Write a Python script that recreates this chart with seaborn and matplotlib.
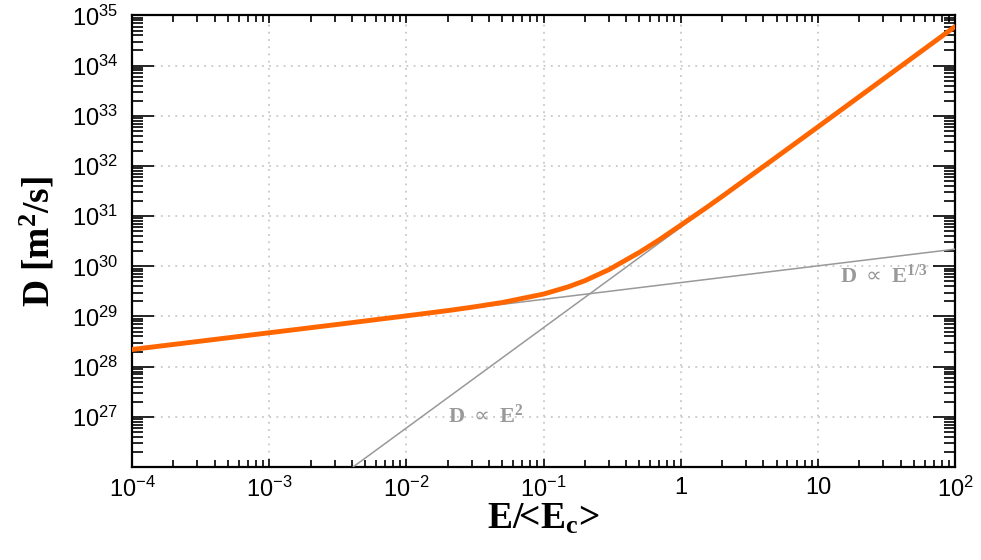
import numpy as np
import pandas as pd
import matplotlib
matplotlib.use("Agg")
import matplotlib.pyplot as plt
import seaborn as sns
from matplotlib.ticker import LogLocator, FixedLocator, FixedFormatter, NullFormatter

# ---- data ----
E_full = [1e-4, 3e-4, 1e-3, 3e-3, 1e-2, 2e-2, 3e-2, 5e-2, 0.1, 0.15, 0.2, 0.3,
          0.5, 0.7, 1.0, 1.5, 2.0, 3.0, 5.0, 10.0, 20.0, 50.0, 100.0]
D_full = [2.2e28, 3.17e28, 4.74e28, 6.84e28, 1.03e29, 1.31e29, 1.53e29, 1.90e29,
          2.8e29, 3.87e29, 5.17e29, 8.6e29, 1.9e30, 3.4e30, 6.6e30, 1.41e31,
          2.46e31, 5.5e31, 1.51e32, 6.0e32, 2.4e33, 1.5e34, 6.0e34]

E_low = [1e-4, 100.0]          # D ∝ E^(1/3) asymptote
D_low = [2.2e28, 2.2e30]
E_high = [4.08e-3, 100.0]      # D ∝ E^2 asymptote
D_high = [1.0e26, 6.0e34]

x_ticks = [1e-4, 1e-3, 1e-2, 1e-1, 1, 10, 100]
x_ticklabels = [r'$\mathregular{10^{-4}}$', r'$\mathregular{10^{-3}}$', r'$\mathregular{10^{-2}}$',
                r'$\mathregular{10^{-1}}$', '1', '10', r'$\mathregular{10^{2}}$']
y_ticks = [1e27, 1e28, 1e29, 1e30, 1e31, 1e32, 1e33, 1e34, 1e35]
y_ticklabels = [r'$\mathregular{10^{%d}}$' % p for p in range(27, 36)]

# ---- style ----
sns.set_style("ticks")
plt.rcParams['font.family'] = ['Liberation Sans', 'DejaVu Sans']
plt.rcParams.update({
    'text.color': 'black', 'axes.labelcolor': 'black',
    'xtick.color': 'black', 'ytick.color': 'black',
    'xtick.direction': 'in', 'ytick.direction': 'in',
    'xtick.top': True, 'xtick.bottom': True,
    'ytick.left': True, 'ytick.right': True,
    'xtick.minor.visible': True, 'ytick.minor.visible': True,
})

fig = plt.figure(figsize=(9.81, 5.60), dpi=100)
ax = fig.add_axes([0.1346, 0.166, 0.839, 0.8065])

df_full = pd.DataFrame({'E': E_full, 'D': D_full})
df_low = pd.DataFrame({'E': E_low, 'D': D_low})
df_high = pd.DataFrame({'E': E_high, 'D': D_high})

sns.lineplot(data=df_low, x='E', y='D', ax=ax, color='#999999', lw=1.1, zorder=3)
sns.lineplot(data=df_high, x='E', y='D', ax=ax, color='#999999', lw=1.1, zorder=3)
sns.lineplot(data=df_full, x='E', y='D', ax=ax, color='#FF6600', lw=3.5, zorder=4)

ax.set_xscale('log')
ax.set_yscale('log')
ax.set_xlim(1e-4, 1e2)
ax.set_ylim(1e26, 1e35)

ax.xaxis.set_major_locator(FixedLocator(x_ticks))
ax.xaxis.set_major_formatter(FixedFormatter(x_ticklabels))
ax.yaxis.set_major_locator(FixedLocator(y_ticks))
ax.yaxis.set_major_formatter(FixedFormatter(y_ticklabels))
ax.xaxis.set_minor_locator(LogLocator(base=10, subs=np.arange(2, 10), numticks=50))
ax.yaxis.set_minor_locator(LogLocator(base=10, subs=np.arange(2, 10), numticks=50))
ax.xaxis.set_minor_formatter(NullFormatter())
ax.yaxis.set_minor_formatter(NullFormatter())

ax.grid(True, which='major', color='#c8c8c8', linestyle=(0, (1, 3)), linewidth=1.3)
for s in ax.spines.values():
    s.set_linewidth(1.6)
    s.set_color('black')
    s.set_visible(True)

ax.tick_params(axis='both', which='both', direction='in', top=True, right=True,
               bottom=True, left=True, color='black', width=1.2)
ax.tick_params(axis='x', which='major', length=6, labelsize=17, pad=7)
ax.tick_params(axis='x', which='minor', length=5)
ax.tick_params(axis='y', which='major', length=16, labelsize=17, pad=10)
ax.tick_params(axis='y', which='minor', length=8)

serif = ['Liberation Serif', 'DejaVu Serif']
ax.set_xlabel(r'E/<E$\mathregular{_c}$>', fontsize=27, fontweight='bold',
              family=serif, labelpad=0, color='black')
ax.set_ylabel(r'D [m$\mathregular{^2}$/s]', fontsize=27, fontweight='bold',
              family=serif, labelpad=10, color='black')

ax.text(0.0201, 7.6e26, r'D $\propto$ $\mathregular{E^{2}}$', fontsize=16,
        fontweight='bold', family=serif, color='#999999', va='baseline', ha='left')
ax.text(14.5, 4.7e29, r'D $\propto$ $\mathregular{E^{1/3}}$', fontsize=16,
        fontweight='bold', family=serif, color='#999999', va='baseline', ha='left')

fig.canvas.draw()
mt = ax.yaxis.get_minor_ticks()
_ = (str(ax.yaxis._minor_tick_kw), len(mt), mt[0].tick1line.get_data(),
     mt[0].tick1line.get_visible())
fig.savefig('out.png', dpi=100)
